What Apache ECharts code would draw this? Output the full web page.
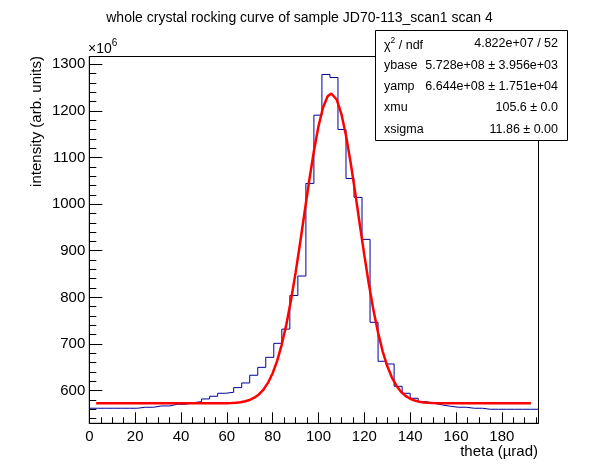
<!DOCTYPE html>
<html><head><meta charset="utf-8">
<script src="https://cdn.jsdelivr.net/npm/echarts@6/dist/echarts.min.js"></script>
<style>html,body{margin:0;padding:0;background:#fff}#c{width:598px;height:474px}</style>
</head><body><div id="c"></div>
<script>
// ---- data (intensity in units of 1e6) ----
const binLowEdges = [0,3.5,7,10.5,14,17.5,21,24.5,28,31.5,35,38.5,42,45.5,49,52.5,56,59.5,63,66.5,70,73.5,77,80.5,84,87.5,91,94.5,98,101.5,105,108.5,112,115.5,119,122.5,126,129.5,133,136.5,140,143.5,147,150.5,154,157.5,161,164.5,168,171.5,175,178.5,182,185.5,189,192.5];
const binUpperEnd = 196;
const counts = [562.3,562.3,562.3,562.3,562.3,562.3,564.4,564.4,567.2,567.2,570.8,570.8,574.3,576.4,582.2,588.0,594.4,596.5,606.5,616.5,633.0,650.0,671.5,701.5,732.0,804.0,845.8,1044.4,1190.7,1278.0,1271.5,1160.0,1055.0,1014.4,924.4,746.5,663.0,657.2,609.4,594.4,583.7,576.4,573.0,569.4,566.6,564.4,564.4,562.3,562.3,560.1,560.1,560.1,560.1,560.1,560.1,560.1];
const fitX = [3,20,40,56,60,62,64,66,68,70,72,74,76,78,80,82,84,86,88,90,92,94,96,98,100,102,104,105.6,106,108,110,112,114,116,118,120,122,124,126,128,130,132,134,136,138,140,142,144,146,148,150,152,160,192.7];
const fitY = [572.8,572.8,572.8,572.9,573.2,573.6,574.2,575.3,577.2,580.1,584.8,591.9,602.3,617.1,637.4,664.5,699.4,742.3,793.7,852.5,917.1,984.6,1051.6,1113.9,1167.1,1207.3,1231.2,1237.2,1236.8,1223.7,1193.0,1147.2,1089.8,1025.1,957.4,890.7,828.2,772.2,724.1,684.4,652.8,628.6,610.6,597.7,588.7,582.7,578.8,576.3,574.8,573.9,573.4,573.0,572.8,572.8];
const xTickLabels = [0,20,40,60,80,100,120,140,160,180];
const yTickLabels = [600,700,800,900,1000,1100,1200,1300];
const statRows = [
  ['{a|χ}{s|2}{a| / ndf}', '4.822e+07 / 52'],
  ['ybase', '5.728e+08 ± 3.956e+03'],
  ['yamp', '6.644e+08 ± 1.751e+04'],
  ['xmu', '105.6 ± 0.0'],
  ['xsigma', '11.86 ± 0.00']
];
const titleText = 'whole crystal rocking curve of sample JD70-113_scan1 scan 4';
const xTitle = 'theta (µrad)';
const yTitle = 'intensity (arb. units)';

// ---- build ----
const X_MIN = 0, X_MAX = binUpperEnd, Y_MIN = 530, Y_MAX = 1316.5;
const histData = binLowEdges.map((e, i) => [e, counts[i]]);
histData.push([binUpperEnd, counts[counts.length - 1]]);
const fitData = fitX.map((x, i) => [x, fitY[i]]);
const xMinor = [], yMinor = [];
for (let v = 5; v < X_MAX; v += 5) if (v % 20 !== 0) xMinor.push(v);
for (let v = 540; v < Y_MAX; v += 20) if (v % 100 !== 0) yMinor.push(v);

const FONT = '"Liberation Sans", Arial, Helvetica, sans-serif';
const chart = echarts.init(document.getElementById('c'), null, {renderer: 'canvas'});
const plain = v => String(v);

const statEls = [{
  type: 'rect', shape: {x: 375.5, y: 30.5, width: 192, height: 110},
  style: {fill: '#fff', stroke: '#000', lineWidth: 1}
}];
statRows.forEach((r, i) => {
  const yc = 44 + i * 21.3;
  statEls.push({type: 'text', x: 384, y: yc, style: {
    text: r[0], fill: '#000', font: '12.5px ' + FONT,
    align: 'left', verticalAlign: 'middle', textAlign: 'left', textVerticalAlign: 'middle',
    rich: {a: {fontSize: 12.5, fontFamily: FONT, lineHeight: 16, verticalAlign: 'bottom'},
           s: {fontSize: 8.5, fontFamily: FONT, lineHeight: 16, verticalAlign: 'top'}}
  }});
  statEls.push({type: 'text', x: 558, y: yc, style: {
    text: r[1], fill: '#000', font: '12.5px ' + FONT,
    align: 'right', verticalAlign: 'middle', textAlign: 'right', textVerticalAlign: 'middle'
  }});
});

chart.setOption({
  animation: false,
  backgroundColor: '#fff',
  textStyle: {fontFamily: FONT},
  grid: {left: 89.3, right: 59.5, top: 56.5, bottom: 50.7, show: true, borderColor: '#000', borderWidth: 1, backgroundColor: 'transparent'},
  xAxis: [{
    type: 'value', min: X_MIN, max: X_MAX, position: 'bottom',
    axisLine: {show: true, lineStyle: {color: '#000', width: 1}},
    axisTick: {show: true, inside: true, length: 11, lineStyle: {color: '#000'}, customValues: xTickLabels},
    axisLabel: {show: true, customValues: xTickLabels, formatter: plain, color: '#000', fontSize: 15, fontFamily: FONT, margin: 6},
    splitLine: {show: false}
  }, {
    type: 'value', min: X_MIN, max: X_MAX, position: 'bottom',
    axisLine: {show: false},
    axisTick: {show: true, inside: true, length: 6, lineStyle: {color: '#000'}, customValues: xMinor},
    axisLabel: {show: false}, splitLine: {show: false}
  }],
  yAxis: [{
    type: 'value', min: Y_MIN, max: Y_MAX, position: 'left',
    axisLine: {show: true, lineStyle: {color: '#000', width: 1}},
    axisTick: {show: true, inside: true, length: 13, lineStyle: {color: '#000'}, customValues: yTickLabels},
    axisLabel: {show: true, customValues: yTickLabels, formatter: plain, color: '#000', fontSize: 15, fontFamily: FONT, margin: 4},
    splitLine: {show: false}
  }, {
    type: 'value', min: Y_MIN, max: Y_MAX, position: 'left',
    axisLine: {show: false},
    axisTick: {show: true, inside: true, length: 7, lineStyle: {color: '#000'}, customValues: yMinor},
    axisLabel: {show: false}, splitLine: {show: false}
  }],
  series: [{
    type: 'line', name: 'hist', data: histData, step: 'end', showSymbol: false, symbol: 'none',
    lineStyle: {color: '#000099', width: 1}, itemStyle: {color: '#000099'}, z: 2
  }, {
    type: 'line', name: 'fit', data: fitData, smooth: false, showSymbol: false, symbol: 'none',
    lineStyle: {color: '#ff0000', width: 2.5}, itemStyle: {color: '#ff0000'}, z: 3
  }],
  graphic: [
    {type: 'text', x: 299.5, y: 18, style: {text: titleText, fill: '#000', font: '14px ' + FONT,
      align: 'center', verticalAlign: 'middle', textAlign: 'center', textVerticalAlign: 'middle'}},
    {type: 'text', x: 538, y: 452, style: {text: xTitle, fill: '#000', font: '15px ' + FONT,
      align: 'right', verticalAlign: 'middle', textAlign: 'right', textVerticalAlign: 'middle'}},
    {type: 'text', x: 37, y: 56, rotation: Math.PI / 2, style: {text: yTitle, fill: '#000', font: '15px ' + FONT,
      align: 'right', verticalAlign: 'middle', textAlign: 'right', textVerticalAlign: 'middle'}},
    {type: 'text', x: 88, y: 56, style: {text: '{m|×10}{s|6}', fill: '#000',
      align: 'left', verticalAlign: 'bottom', textAlign: 'left', textVerticalAlign: 'bottom',
      rich: {m: {fontSize: 14, fontFamily: FONT, lineHeight: 18, verticalAlign: 'bottom'},
             s: {fontSize: 10, fontFamily: FONT, lineHeight: 18, verticalAlign: 'top'}}}},
    {type: 'group', z: 100, children: statEls}
  ]
});
</script></body></html>
